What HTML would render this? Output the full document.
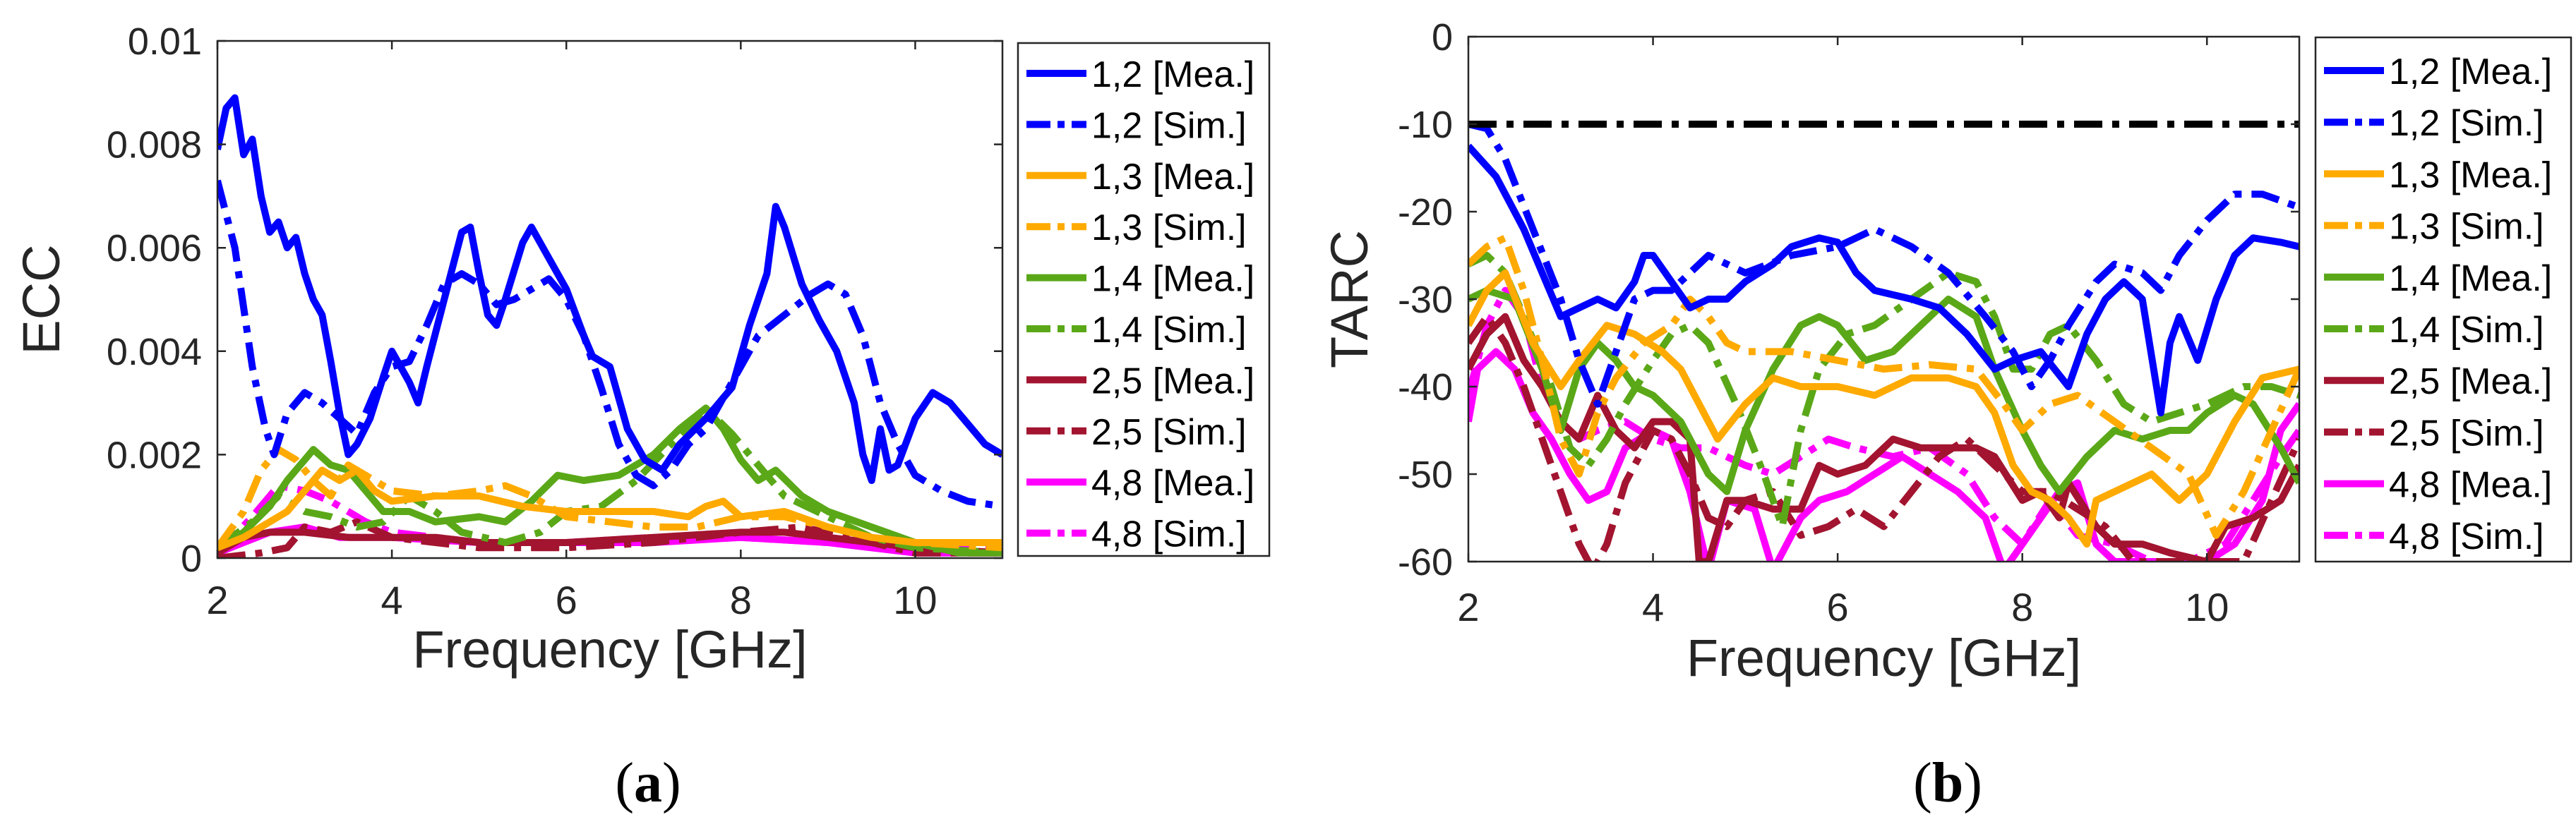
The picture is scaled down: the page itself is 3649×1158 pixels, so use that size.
<!DOCTYPE html>
<html><head><meta charset="utf-8"><style>
html,body{margin:0;padding:0;background:#fff;}
svg{display:block;font-family:"Liberation Sans",Arial,sans-serif;}
</style></head><body>
<svg id="fig" width="3649" height="1158" viewBox="0 0 3649 1158" xmlns="http://www.w3.org/2000/svg">
<defs>
<clipPath id="clipA"><rect x="308" y="58" width="1112" height="733"/></clipPath>
<clipPath id="clipB"><rect x="2080" y="52" width="1177" height="744"/></clipPath>
</defs>
<g id="chartA"></g>
<g id="chartB"></g>
<text x="918" y="1136" text-anchor="middle" font-family="Liberation Serif,serif" font-size="80" fill="#000">(<tspan font-weight="bold">a</tspan>)</text>
<text x="2759" y="1136" text-anchor="middle" font-family="Liberation Serif,serif" font-size="80" fill="#000">(<tspan font-weight="bold">b</tspan>)</text>
</svg>
<script>
// ---------- shared ----------
const legendLabels = ["1,2 [Mea.]","1,2 [Sim.]","1,3 [Mea.]","1,3 [Sim.]","1,4 [Mea.]","1,4 [Sim.]","2,5 [Mea.]","2,5 [Sim.]","4,8 [Mea.]","4,8 [Sim.]"];
const xTicks = [2,4,6,8,10];
// ---------- ECC data ----------
const eccYTicks = [0,0.002,0.004,0.006,0.008,0.01];
const eccYTickLabels = ["0","0.002","0.004","0.006","0.008","0.01"];
const ecc12MeaF = [2,2.1,2.2,2.3,2.4,2.5,2.6,2.7,2.8,2.9,3,3.1,3.2,3.3,3.4,3.5,3.6,3.75,3.9,4,4.2,4.3,4.4,4.6,4.8,4.9,5,5.1,5.2,5.3,5.5,5.6,5.8,6,6.2,6.3,6.5,6.7,6.9,7.1,7.3,7.6,7.9,8.1,8.3,8.4,8.5,8.7,8.9,9.1,9.3,9.4,9.5,9.6,9.7,9.8,10,10.2,10.4,10.6,10.8,11];
const ecc12MeaV = [0.0079,0.0087,0.0089,0.0078,0.0081,0.007,0.0063,0.0065,0.006,0.0062,0.0055,0.005,0.0047,0.0038,0.0028,0.002,0.0022,0.0027,0.0035,0.004,0.0034,0.003,0.0037,0.005,0.0063,0.0064,0.0055,0.0047,0.0045,0.005,0.0061,0.0064,0.0058,0.0052,0.0043,0.0039,0.0037,0.0025,0.0019,0.0017,0.0022,0.0027,0.0033,0.0045,0.0055,0.0068,0.0064,0.0053,0.0046,0.004,0.003,0.002,0.0015,0.0025,0.0017,0.0018,0.0027,0.0032,0.003,0.0026,0.0022,0.002];
const ecc12SimF = [2,2.2,2.4,2.55,2.65,2.8,3,3.2,3.4,3.6,3.8,4,4.2,4.4,4.6,4.8,5,5.2,5.4,5.6,5.8,6,6.2,6.4,6.6,6.8,7,7.2,7.4,7.6,7.8,8,8.2,8.5,8.8,9,9.2,9.4,9.6,9.8,10,10.3,10.6,11];
const ecc12SimV = [0.0073,0.006,0.0037,0.0025,0.002,0.0028,0.0032,0.003,0.0027,0.0024,0.0032,0.0037,0.0038,0.0045,0.0053,0.0055,0.0053,0.0049,0.005,0.0052,0.0054,0.005,0.0043,0.0033,0.0022,0.0016,0.0014,0.0017,0.0022,0.0025,0.0031,0.0037,0.0043,0.0047,0.0051,0.0053,0.0051,0.0043,0.003,0.0022,0.0016,0.0013,0.0011,0.001];
const ecc13MeaF = [2,2.3,2.6,2.8,3,3.2,3.4,3.6,3.8,4,4.5,5,5.5,6,6.5,7,7.4,7.6,7.8,8,8.5,9,9.5,10,11];
const ecc13MeaV = [0.0002,0.0004,0.0007,0.0009,0.0013,0.0017,0.0015,0.0017,0.0013,0.0011,0.0012,0.0012,0.001,0.0009,0.0009,0.0009,0.0008,0.001,0.0011,0.0008,0.0009,0.0006,0.0004,0.0003,0.0003];
const ecc13SimF = [2,2.3,2.5,2.7,2.9,3.1,3.3,3.5,3.7,4,4.5,5,5.3,5.6,6,6.5,7,7.5,8,8.5,9,9.5,10,11];
const ecc13SimV = [0.0002,0.0009,0.0017,0.0021,0.0019,0.0015,0.0012,0.0018,0.0016,0.0013,0.0012,0.0013,0.0014,0.0012,0.0008,0.0007,0.0006,0.0006,0.0008,0.0008,0.0006,0.0004,0.0003,0.0002];
const ecc14MeaF = [2,2.3,2.6,2.8,3,3.1,3.3,3.5,3.7,3.9,4.2,4.5,5,5.3,5.6,5.9,6.2,6.6,7,7.3,7.6,7.8,8,8.2,8.4,8.7,9,9.5,10,10.5,11];
const ecc14MeaV = [0.0002,0.0005,0.001,0.0015,0.0019,0.0021,0.0018,0.0017,0.0013,0.0009,0.0009,0.0007,0.0008,0.0007,0.0011,0.0016,0.0015,0.0016,0.002,0.0025,0.0029,0.0025,0.0019,0.0015,0.0017,0.0012,0.0009,0.0006,0.0003,0.0001,0.0001];
const ecc14SimF = [2,2.4,2.7,3,3.3,3.6,3.9,4.2,4.5,4.8,5.3,5.7,6,6.4,6.8,7.2,7.6,7.9,8.2,8.5,9,9.5,10,11];
const ecc14SimV = [0.0002,0.0007,0.0012,0.0009,0.0008,0.0006,0.0007,0.0012,0.0009,0.0005,0.0003,0.0005,0.0009,0.001,0.0015,0.0022,0.0029,0.0024,0.0018,0.0012,0.0008,0.0004,0.0002,0.0001];
const ecc25MeaF = [2,2.3,2.6,3,3.5,4,4.5,5,6,7,8,8.5,9,10,11];
const ecc25MeaV = [0.0001,0.0004,0.0005,0.0005,0.0004,0.0004,0.0004,0.0003,0.0003,0.0004,0.0005,0.0005,0.0004,0.0002,0.0001];
const ecc25SimF = [2,2.5,2.8,3,3.3,3.6,4,5,6,7,8,8.7,9.5,10,11];
const ecc25SimV = [0,0.0001,0.0002,0.0006,0.0005,0.0007,0.0004,0.0002,0.0002,0.0003,0.0005,0.0006,0.0003,0.0001,0.0001];
const ecc48MeaF = [2,2.3,2.6,3,3.4,4,5,5.5,6,7,8,9,10,11];
const ecc48MeaV = [0.0001,0.0003,0.0005,0.0006,0.0004,0.0004,0.0003,0.0003,0.0003,0.0003,0.0004,0.0003,0.0001,0.0001];
const ecc48SimF = [2,2.4,2.7,3,3.3,3.7,4,4.5,5,6,7,8,9,10,11];
const ecc48SimV = [0.0001,0.0008,0.0014,0.0013,0.0011,0.0007,0.0005,0.0004,0.0003,0.0003,0.0004,0.0004,0.0003,0.0002,0.0002];
// ---------- TARC data ----------
const tarcYTicks = [-60,-50,-40,-30,-20,-10,0];
const tarcYTickLabels = ["-60","-50","-40","-30","-20","-10","0"];
const tarcRefF = [2,11];
const tarcRefV = [-10,-10];
const tarc12MeaF = [2,2.3,2.6,2.8,3,3.2,3.4,3.6,3.8,3.9,4,4.2,4.4,4.6,4.8,5,5.3,5.5,5.8,6,6.2,6.4,6.8,7.1,7.4,7.7,7.9,8.2,8.5,8.7,8.9,9.1,9.3,9.5,9.6,9.7,9.9,10.1,10.3,10.5,10.8,11];
const tarc12MeaV = [-12.5,-16,-22,-27,-32,-31,-30,-31,-28,-25,-25,-28,-31,-30,-30,-28,-26,-24,-23,-23.5,-27,-29,-30,-31,-34,-38,-37,-36,-40,-34,-30,-28,-30,-43,-35,-32,-37,-30,-25,-23,-23.5,-24];
const tarc12SimF = [2,2.2,2.4,2.7,3,3.2,3.4,3.6,3.8,4,4.2,4.4,4.6,4.8,5,5.5,6,6.4,6.8,7.2,7.6,7.9,8.1,8.3,8.5,8.8,9,9.3,9.5,9.7,10,10.3,10.6,11];
const tarc12SimV = [-10,-10.5,-14,-22,-30,-37,-42,-36,-30,-29,-29,-27,-25,-26,-27,-25,-24,-22,-24,-27,-32,-36,-40,-37,-33,-28,-26,-27,-29,-25,-21,-18,-18,-19.5];
const tarc13MeaF = [2,2.2,2.4,2.7,3,3.2,3.5,3.8,4.1,4.3,4.5,4.7,5,5.3,5.6,6,6.4,6.8,7.2,7.5,7.7,7.9,8.1,8.3,8.5,8.7,8.8,9,9.4,9.7,10,10.3,10.6,11];
const tarc13MeaV = [-33,-29,-27,-35,-40,-37,-33,-34,-36,-38,-42,-46,-42,-39,-40,-40,-41,-39,-39,-40,-43,-49,-52,-53,-55,-58,-53,-52,-50,-53,-50,-44,-39,-38];
const tarc13SimF = [2,2.2,2.4,2.6,2.8,3,3.2,3.4,3.6,3.9,4.2,4.4,4.6,4.8,5,5.5,6,6.5,7,7.5,7.8,8,8.3,8.6,9,9.4,9.8,10.1,10.4,10.7,11];
const tarc13SimV = [-26,-24,-23,-29,-37,-46,-50,-43,-39,-35,-33,-30,-32,-35,-36,-36,-37,-38,-37.5,-38,-42,-45,-42,-41,-44,-47,-50,-57,-52,-45,-38];
const tarc14MeaF = [2,2.2,2.5,2.8,3,3.2,3.4,3.6,3.8,4,4.3,4.6,4.8,5,5.3,5.6,5.8,6,6.3,6.6,7,7.2,7.5,7.7,8,8.2,8.4,8.7,9,9.3,9.6,9.8,10,10.3,10.5,10.8,11];
const tarc14MeaV = [-30,-29,-30,-38,-45,-38,-35,-37,-40,-41,-44,-50,-52,-45,-38,-33,-32,-33,-37,-36,-32,-30,-32,-38,-45,-49,-52,-48,-45,-46,-45,-45,-43,-41,-42,-47,-51];
const tarc14SimF = [2,2.2,2.4,2.6,2.9,3.1,3.3,3.5,3.7,4,4.2,4.4,4.6,4.9,5.2,5.4,5.6,5.8,6.1,6.4,6.8,7.2,7.5,7.7,7.9,8.1,8.3,8.5,8.8,9.1,9.4,9.7,10,10.4,10.7,11];
const tarc14SimV = [-26,-25,-27,-32,-40,-47,-49,-46,-42,-37,-34,-33,-35,-42,-50,-56,-45,-38,-34,-33,-30,-27,-28,-32,-38,-38,-34,-33,-37,-42,-44,-43,-42,-40,-40,-41];
const tarc25MeaF = [2,2.2,2.4,2.6,2.8,3,3.2,3.4,3.6,3.8,4,4.2,4.4,4.5,4.6,4.8,5,5.3,5.6,5.8,6,6.3,6.6,6.9,7.2,7.5,7.7,8,8.2,8.4,8.5,8.8,9,9.3,9.6,10,10.2,10.5,10.8,11];
const tarc25MeaV = [-38,-34,-32,-37,-40,-44,-46,-41,-45,-47,-44,-44,-46,-60,-60,-53,-53,-54,-54,-49,-50,-49,-46,-47,-47,-47,-48,-53,-52,-55,-51,-56,-58,-58,-59,-60,-56,-55,-53,-49];
const tarc25SimF = [2,2.2,2.4,2.6,2.8,3,3.2,3.35,3.5,3.7,4,4.2,4.4,4.6,4.8,5,5.3,5.6,5.9,6.2,6.5,6.8,7.1,7.4,7.7,8,8.3,8.6,8.9,9.2,9.6,10,10.4,10.7,11];
const tarc25SimV = [-35,-32,-35,-40,-46,-52,-58,-61,-58,-51,-45,-46,-50,-55,-56,-53,-52,-57,-56,-54,-56,-52,-48,-46,-49,-52,-52,-54,-56,-60,-60,-60,-60,-53,-46];
const tarc48MeaF = [2,2.1,2.3,2.5,2.7,2.9,3.1,3.3,3.5,3.7,4,4.2,4.4,4.6,4.8,5.1,5.3,5.6,5.8,6.1,6.4,6.7,7,7.3,7.6,7.8,8,8.2,8.4,8.6,8.8,9,9.5,10,10.3,10.6,10.8,11];
const tarc48MeaV = [-44,-38,-36,-38,-43,-46,-50,-53,-52,-47,-45,-46,-52,-61,-53,-54,-61,-55,-53,-52,-50,-48,-50,-52,-55,-61,-58,-55,-52,-51,-58,-60,-60,-60,-58,-53,-45,-42];
const tarc48SimF = [2,2.2,2.4,2.6,2.8,3,3.2,3.4,3.7,4,4.3,4.6,5,5.3,5.6,5.9,6.2,6.6,7,7.4,7.7,8,8.3,8.6,9,9.4,9.8,10.2,10.5,10.8,11];
const tarc48SimV = [-41,-33,-29,-32,-40,-44,-46,-45,-44,-46,-47,-47,-49,-50,-48,-46,-47,-48,-47,-50,-55,-58,-53,-57,-58,-60,-60,-58,-53,-48,-45];

const colors = ["#0000ff","#0000ff","#ffaa00","#ffaa00","#5aa818","#5aa818","#a2142f","#a2142f","#ff00ff","#ff00ff"];
const DASHDOT = "40 14 10 14";
const NS = "http://www.w3.org/2000/svg";
function mk(tag, attrs, parent){const e=document.createElementNS(NS,tag);for(const k in attrs)e.setAttribute(k,attrs[k]);parent.appendChild(e);return e;}

function drawChart(g, cfg){
  const L=cfg.left,R=cfg.right,T=cfg.top,B=cfg.bottom;
  const sx=f=>L+(f-2)/(11-2)*(R-L);
  const sy=v=>B-(v-cfg.ymin)/(cfg.ymax-cfg.ymin)*(B-T);
  const plot=mk('rect',{x:L,y:T,width:R-L,height:B-T,fill:'#fff'},g);
  
  
  // series
  const sg=mk('g',{'clip-path':'url(#'+cfg.clip+')'},g);
  
  
  cfg.series.forEach((s,i)=>{
    const d=s.f.map((f,j)=>(j?'L':'M')+sx(f).toFixed(1)+','+sy(s.v[j]).toFixed(1)).join(' ');
    const p=mk('path',{d:d,fill:'none',stroke:s.color,'stroke-width':10,'stroke-linejoin':'round'},sg);
    if(s.dash) p.setAttribute('stroke-dasharray',DASHDOT);
    
    
  });
  // box
  const box=mk('rect',{x:L,y:T,width:R-L,height:B-T,fill:'none',stroke:'#262626','stroke-width':2.5},g);
  
  
  // x ticks
  xTicks.forEach(t=>{
    const x=sx(t);
    const tk=mk('path',{d:`M${x},${B}V${B-12}M${x},${T}V${T+12}`,stroke:'#262626','stroke-width':2.5},g);
    
    
    const tx=mk('text',{x:x,y:cfg.xTickY,'text-anchor':'middle','font-size':56,fill:'#262626'},g);
    tx.textContent=String(t);
    
    
  });
  cfg.yTicks.forEach((t,i)=>{
    const y=sy(t);
    const tk=mk('path',{d:`M${L},${y}H${L+12}M${R},${y}H${R-12}`,stroke:'#262626','stroke-width':2.5},g);
    
    
    const tx=mk('text',{x:L-22,y:y+19,'text-anchor':'end','font-size':54,fill:'#262626'},g);
    tx.textContent=cfg.yLabels[i];
    
    
  });
  const xt=mk('text',{x:(L+R)/2,y:cfg.xTitleY,'text-anchor':'middle','font-size':74,fill:'#262626'},g);
  xt.textContent='Frequency [GHz]';
  
  
  const yt=mk('text',{x:0,y:0,'text-anchor':'middle','font-size':74,fill:'#262626',transform:`translate(${cfg.yTitleX},${(T+B)/2}) rotate(-90)`},g);
  yt.textContent=cfg.yTitle;
  
  
  // legend
  const lg=mk('g',{},g);
  
  
  const lb=mk('rect',{x:cfg.lgX,y:cfg.lgY,width:cfg.lgW,height:cfg.lgH,fill:'#fff',stroke:'#262626','stroke-width':2.5},lg);
  
  
  legendLabels.forEach((lab,i)=>{
    const y=cfg.lgY+cfg.lgFirst+i*cfg.lgStep;
    const ln=mk('path',{d:`M${cfg.lgX+12},${y}H${cfg.lgX+97}`,stroke:colors[i],'stroke-width':10},lg);
    if(i%2===1) ln.setAttribute('stroke-dasharray','34 10 10 10');
    
    
    const tx=mk('text',{x:cfg.lgX+104,y:y+19,'font-size':52,fill:'#000'},lg);
    tx.textContent=lab;
    
    
  });
}

const eccSeries=[
 {f:ecc12MeaF,v:ecc12MeaV},{f:ecc12SimF,v:ecc12SimV},{f:ecc13MeaF,v:ecc13MeaV},{f:ecc13SimF,v:ecc13SimV},
 {f:ecc14MeaF,v:ecc14MeaV},{f:ecc14SimF,v:ecc14SimV},{f:ecc25MeaF,v:ecc25MeaV},{f:ecc25SimF,v:ecc25SimV},
 {f:ecc48MeaF,v:ecc48MeaV},{f:ecc48SimF,v:ecc48SimV}];
const names=["line-12-mea","line-12-sim","line-13-mea","line-13-sim","line-14-mea","line-14-sim","line-25-mea","line-25-sim","line-48-mea","line-48-sim"];
const order=[9,8,7,6,5,4,3,2,1,0];
drawChart(document.getElementById('chartA'),{
  left:308,right:1420,top:58,bottom:791,ymin:0,ymax:0.01,clip:'clipA',
  yTicks:eccYTicks,yLabels:eccYTickLabels,yTitle:'ECC',yTitleX:84,xTickY:870,xTitleY:946,
  lgX:1442,lgY:61,lgW:356,lgH:727,lgFirst:43,lgStep:72.4,
  series:order.map(i=>({f:eccSeries[i].f,v:eccSeries[i].v,color:colors[i],dash:i%2===1,name:names[i]}))
});
const tarcSeries=[
 {f:tarc12MeaF,v:tarc12MeaV},{f:tarc12SimF,v:tarc12SimV},{f:tarc13MeaF,v:tarc13MeaV},{f:tarc13SimF,v:tarc13SimV},
 {f:tarc14MeaF,v:tarc14MeaV},{f:tarc14SimF,v:tarc14SimV},{f:tarc25MeaF,v:tarc25MeaV},{f:tarc25SimF,v:tarc25SimV},
 {f:tarc48MeaF,v:tarc48MeaV},{f:tarc48SimF,v:tarc48SimV}];
const tser=order.map(i=>({f:tarcSeries[i].f,v:tarcSeries[i].v,color:colors[i],dash:i%2===1,name:names[i]}));
tser.push({f:tarcRefF,v:tarcRefV,color:'#000',dash:true,name:'threshold-line'});
drawChart(document.getElementById('chartB'),{
  left:2080,right:3257,top:52,bottom:796,ymin:-60,ymax:0,clip:'clipB',
  yTicks:tarcYTicks,yLabels:tarcYTickLabels,yTitle:'TARC',yTitleX:1937,xTickY:880,xTitleY:958,
  lgX:3280,lgY:53,lgW:362,lgH:743,lgFirst:47,lgStep:73.2,
  series:tser
});
</script>
</body></html>
